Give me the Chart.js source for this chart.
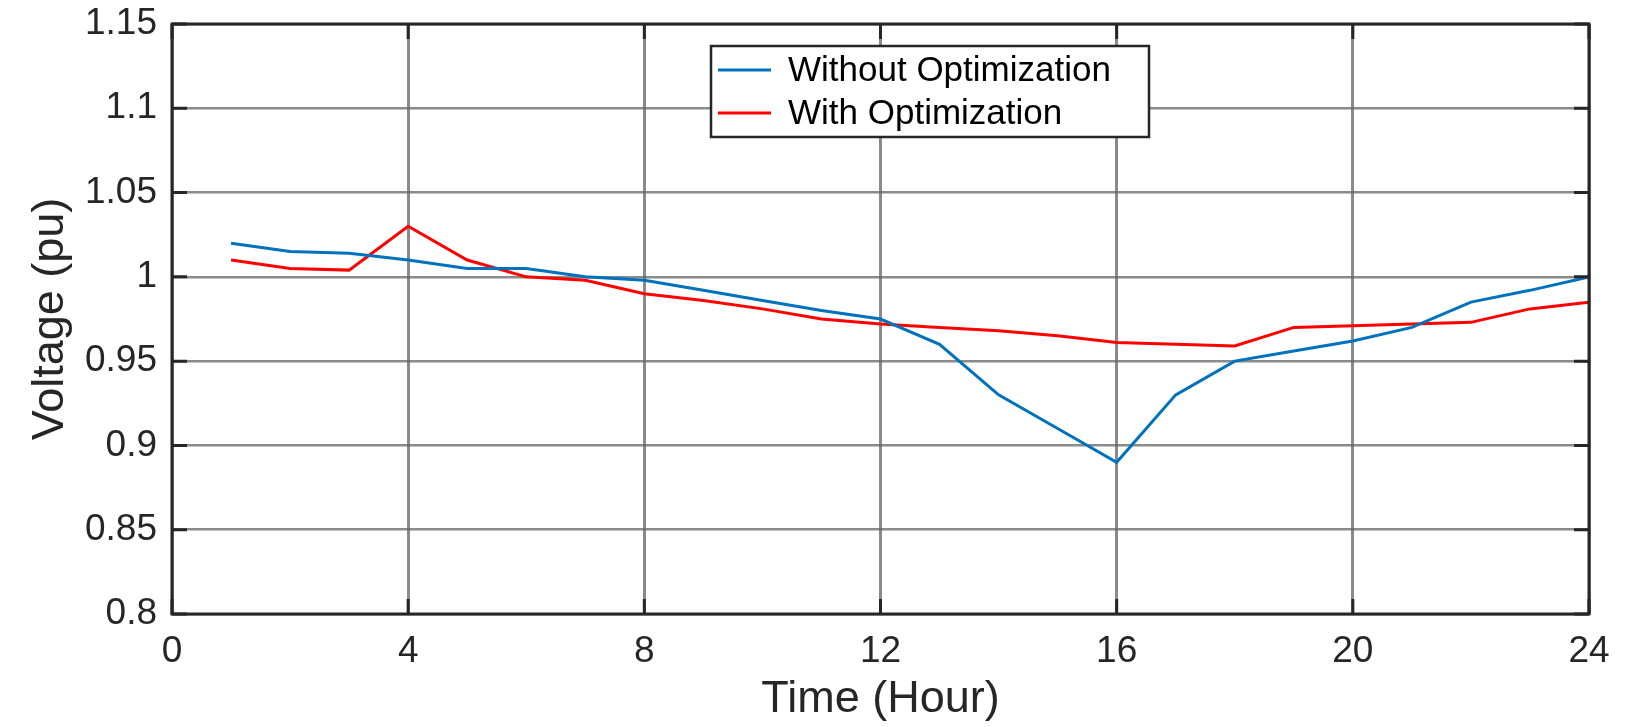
<!DOCTYPE html>
<html>
<head>
<meta charset="utf-8">
<script src="https://cdn.jsdelivr.net/npm/chart.js@4"></script>
<style>
  html, body { margin: 0; padding: 0; background: #fff; }
  canvas { display: block; }
</style>
</head>
<body>
<canvas id="voltageChart" width="1636" height="727"></canvas>
<script>
// hourly bus voltage (pu), hours 1..24
const hours = [1, 2, 3, 4, 5, 6, 7, 8, 9, 10, 11, 12, 13, 14, 15, 16, 17, 18, 19, 20, 21, 22, 23, 24];
const withoutOpt = [1.020, 1.015, 1.014, 1.010, 1.005, 1.005, 1.000, 0.998, 0.992, 0.986, 0.980, 0.975,
                    0.960, 0.930, 0.910, 0.890, 0.930, 0.950, 0.956, 0.962, 0.970, 0.985, 0.992, 1.000];
const withOpt = [1.010, 1.005, 1.004, 1.030, 1.010, 1.000, 0.998, 0.990, 0.986, 0.981, 0.975, 0.972,
                 0.970, 0.968, 0.965, 0.961, 0.960, 0.959, 0.970, 0.971, 0.972, 0.973, 0.981, 0.985];
const xTicks = [0, 4, 8, 12, 16, 20, 24];
const yTicks = [0.8, 0.85, 0.9, 0.95, 1, 1.05, 1.1, 1.15];

const FONT = '"Liberation Sans", Arial, sans-serif';
const INK = '#262626';
const GRID = 'rgba(100,100,100,0.75)';

const toPoints = vals => hours.map((h, i) => ({ x: h, y: vals[i] }));

// box, inward ticks on all four sides, and the boxed legend
const matlabAxes = {
    id: 'matlabAxes',
    afterDatasetsDraw(chart) {
        const { ctx, chartArea: a, scales } = chart;
        const len = 15;
        ctx.save();
        ctx.strokeStyle = INK;
        ctx.lineWidth = 3;
        ctx.beginPath();
        xTicks.forEach(t => {
            const x = scales.x.getPixelForValue(t);
            ctx.moveTo(x, a.bottom); ctx.lineTo(x, a.bottom - len);
            ctx.moveTo(x, a.top); ctx.lineTo(x, a.top + len);
        });
        yTicks.forEach(t => {
            const y = scales.y.getPixelForValue(t);
            ctx.moveTo(a.left, y); ctx.lineTo(a.left + len, y);
            ctx.moveTo(a.right, y); ctx.lineTo(a.right - len, y);
        });
        ctx.stroke();
        ctx.strokeRect(a.left, a.top, a.right - a.left, a.bottom - a.top);

        // legend
        const box = { x: 711, y: 46, w: 438, h: 91 };
        ctx.fillStyle = '#fff';
        ctx.fillRect(box.x, box.y, box.w, box.h);
        ctx.lineWidth = 2.5;
        ctx.strokeStyle = INK;
        ctx.strokeRect(box.x, box.y, box.w, box.h);
        ctx.font = '35px ' + FONT;
        ctx.textBaseline = 'middle';
        ctx.textAlign = 'left';
        chart.data.datasets.forEach((ds, i) => {
            const cy = box.y + 24 + i * 43;
            ctx.strokeStyle = ds.borderColor;
            ctx.lineWidth = 3;
            ctx.beginPath();
            ctx.moveTo(box.x + 7, cy);
            ctx.lineTo(box.x + 60, cy);
            ctx.stroke();
            ctx.fillStyle = '#000';
            ctx.fillText(ds.label, box.x + 77, cy + 1);
        });
        ctx.restore();
    }
};

new Chart(document.getElementById('voltageChart'), {
    type: 'line',
    data: {
        datasets: [{
            label: 'Without Optimization',
            data: toPoints(withoutOpt),
            borderColor: '#0072BD',
            borderWidth: 3,
            pointRadius: 0,
            tension: 0
        }, {
            label: 'With Optimization',
            data: toPoints(withOpt),
            borderColor: '#FF0000',
            borderWidth: 3,
            pointRadius: 0,
            tension: 0
        }]
    },
    options: {
        responsive: false,
        animation: false,
        layout: { padding: { top: 24, right: 47, left: 0, bottom: 0 } },
        plugins: {
            legend: { display: false },
            tooltip: { enabled: false }
        },
        scales: {
            x: {
                type: 'linear',
                min: 0,
                max: 24,
                afterBuildTicks: s => { s.ticks = xTicks.map(v => ({ value: v })); },
                afterFit: s => { s.height = 113; },
                grid: { color: GRID, lineWidth: 3, drawTicks: false },
                border: { display: false },
                ticks: {
                    padding: 16,
                    color: INK,
                    font: { family: FONT, size: 37 },
                    maxRotation: 0
                },
                title: {
                    display: true,
                    text: 'Time (Hour)',
                    color: INK,
                    font: { family: FONT, size: 45 },
                    padding: { top: 0, bottom: 0 }
                }
            },
            y: {
                min: 0.8,
                max: 1.15,
                afterBuildTicks: s => { s.ticks = yTicks.map(v => ({ value: v })); },
                // fixed gutter; top/bottom labels may overhang the plot edge
                afterFit: s => { s.width = 172; s.paddingTop = 0; s.paddingBottom = 0; },
                grid: { color: GRID, lineWidth: 2.5, drawTicks: false },
                border: { display: false },
                ticks: {
                    padding: 15,
                    color: INK,
                    font: { family: FONT, size: 37 },
                    callback: v => String(Number(v.toFixed(2)))
                },
                title: {
                    display: true,
                    text: 'Voltage (pu)',
                    color: INK,
                    font: { family: FONT, size: 45 },
                    padding: { top: 24, bottom: 0 }
                }
            }
        }
    },
    plugins: [matlabAxes]
});
</script>
</body>
</html>
